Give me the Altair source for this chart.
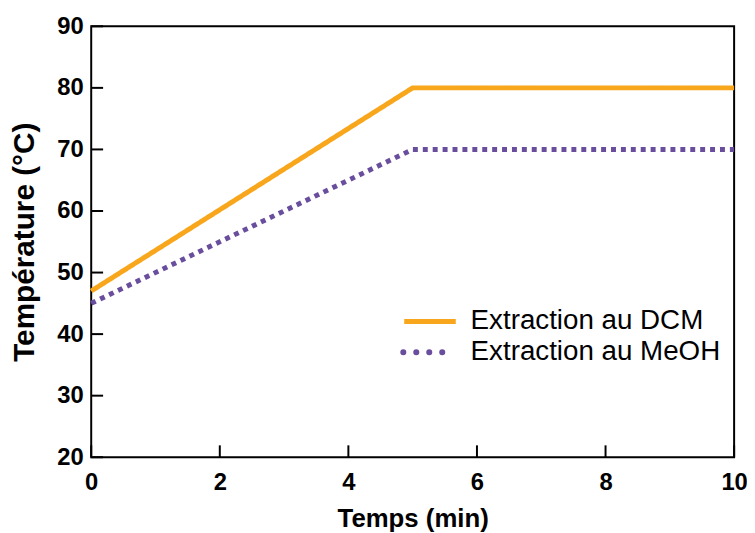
import altair as alt
import pandas as pd

# Data
time_min = [0, 5, 10]
dcm_temp = [47, 80, 80]
meoh_temp = [45, 70, 70]
series_names = ["Extraction au DCM", "Extraction au MeOH"]
series_colors = ["#F8A61C", "#6A4E9E"]
x_ticks = [0, 2, 4, 6, 8, 10]
y_ticks = [20, 30, 40, 50, 60, 70, 80, 90]

rows = []
for t, v in zip(time_min, dcm_temp):
    rows.append({"t": t, "temp": v, "serie": series_names[0]})
for t, v in zip(time_min, meoh_temp):
    rows.append({"t": t, "temp": v, "serie": series_names[1]})
df = pd.DataFrame(rows)

W, H = 649, 435
FONT = "Liberation Sans"

xscale = alt.Scale(domain=[0, 10], nice=False, zero=False)
yscale = alt.Scale(domain=[20, 90], nice=False, zero=False)

xaxis = alt.Axis(values=x_ticks, ticks=False, domain=False, grid=False,
                 labelFlush=False, labelOverlap=False,
                 labelFontSize=24, labelFontWeight="bold", labelFont=FONT,
                 labelColor="black", labelPadding=14,
                 titleFontSize=26, titleFontWeight="bold", titleFont=FONT,
                 titleColor="black", titlePadding=11)
yaxis = alt.Axis(values=y_ticks, ticks=False, domain=False, grid=False,
                 labelFlush=False, labelOverlap=False,
                 labelFontSize=24, labelFontWeight="bold", labelFont=FONT,
                 labelColor="black", labelPadding=8,
                 titleFontSize=30, titleFontWeight="bold", titleFont=FONT,
                 titleColor="black", titlePadding=18)

lines = alt.Chart(df).mark_line(strokeWidth=5, strokeCap="butt").encode(
    x=alt.X("t:Q", scale=xscale, title="Temps (min)", axis=xaxis),
    y=alt.Y("temp:Q", scale=yscale, title="Température (°C)", axis=yaxis),
    color=alt.Color("serie:N", legend=None,
                    scale=alt.Scale(domain=series_names, range=series_colors)),
    strokeDash=alt.StrokeDash("serie:N", legend=None,
                              scale=alt.Scale(domain=series_names, range=[[1, 0], [5, 5]])),
)

xt = alt.Chart(pd.DataFrame({"t": x_ticks})).mark_rule(color="black", strokeWidth=2).encode(
    x=alt.X("t:Q", scale=xscale, title="Temps (min)", axis=xaxis),
    y=alt.value(H), y2=alt.value(H - 12),
)
yt = alt.Chart(pd.DataFrame({"temp": y_ticks})).mark_rule(color="black", strokeWidth=2).encode(
    y=alt.Y("temp:Q", scale=yscale, title="Température (°C)", axis=yaxis),
    x=alt.value(0), x2=alt.value(12),
)

# Legend (drawn inside the plot area, as in the reference)
LX, LY, LROW = 316, 298, 31
leg_dcm_sym = alt.Chart(pd.DataFrame({"s": [series_names[0]]})).mark_rule(
    color=series_colors[0], strokeWidth=5, strokeCap="butt"
).encode(x=alt.value(LX), x2=alt.value(LX + 52), y=alt.value(LY))
leg_meoh_sym = alt.Chart(pd.DataFrame({"s": [series_names[1]]})).mark_rule(
    color=series_colors[1], strokeWidth=6, strokeCap="round", strokeDash=[0.1, 13]
).encode(x=alt.value(LX - 1), x2=alt.value(LX + 50), y=alt.value(LY + LROW))
leg_dcm_txt = alt.Chart(pd.DataFrame({"s": [series_names[0]]})).mark_text(
    align="left", baseline="middle", font=FONT, fontSize=28, color="black"
).encode(text="s:N", x=alt.value(LX + 67), y=alt.value(LY))
leg_meoh_txt = alt.Chart(pd.DataFrame({"s": [series_names[1]]})).mark_text(
    align="left", baseline="middle", font=FONT, fontSize=28, color="black"
).encode(text="s:N", x=alt.value(LX + 67), y=alt.value(LY + LROW))

chart = alt.layer(lines, xt, yt, leg_dcm_sym, leg_meoh_sym, leg_dcm_txt, leg_meoh_txt).properties(
    width=W, height=H,
    background="white",
    autosize=alt.AutoSizeParams(type="none"),
    padding={"left": 84, "top": 16, "right": 13, "bottom": 74},
).configure_view(
    stroke="black", strokeWidth=2
)

chart.save("out.html", embed_options={"renderer": "svg", "actions": False})
